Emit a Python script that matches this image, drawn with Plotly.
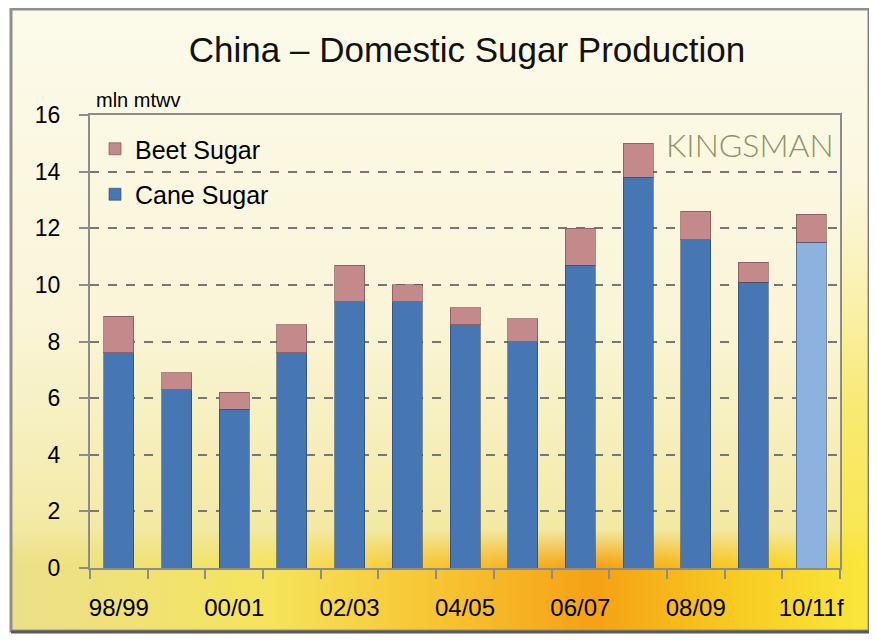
import base64
import plotly.graph_objects as go

# ---- data ----
seasons = ["98/99", "99/00", "00/01", "01/02", "02/03", "03/04", "04/05",
           "05/06", "06/07", "07/08", "08/09", "09/10", "10/11f"]
tick_labels = ["98/99", "", "00/01", "", "02/03", "", "04/05",
               "", "06/07", "", "08/09", "", "10/11f"]
cane_sugar = [7.6, 6.3, 5.6, 7.6, 9.4, 9.4, 8.6, 8.0, 10.7, 13.8, 11.6, 10.1, 11.5]
beet_sugar = [1.3, 0.6, 0.6, 1.0, 1.3, 0.6, 0.6, 0.8, 1.3, 1.2, 1.0, 0.7, 1.0]
y_ticks = [0, 2, 4, 6, 8, 10, 12, 14, 16]

# ---- styles ----
FONT = "Liberation Sans, Arial, sans-serif"
CANE = "#4677b4"
CANE_FC = "#8cb2e0"
BEET = "#c48a8b"
cane_colors = [CANE] * (len(seasons) - 1) + [CANE_FC]

W, H = 877, 640
OFF = 8  # page body margin
# plot area in screen pixels: x 90..840, y 115..568
ML, MT = 90 - OFF, 115 - OFF
MR, MB = W - (840 - OFF), H - (568 - OFF)
PW, PH = W - ML - MR, H - MT - MB

fx0, fy0, fx1, fy1 = 10 - OFF, 8 - OFF, 870 - OFF, 632 - OFF
svg = f"""<svg xmlns='http://www.w3.org/2000/svg' width='{W}' height='{H}' viewBox='0 0 {W} {H}'>
<defs>
<linearGradient id='v' x1='0' y1='0' x2='0' y2='1'>
 <stop offset='0' stop-color='#fcfaea'/>
 <stop offset='0.5' stop-color='#faf5d8'/>
 <stop offset='0.8' stop-color='#f4ebab'/>
 <stop offset='1' stop-color='#efdf7a'/>
</linearGradient>
<linearGradient id='h' x1='0' y1='0' x2='1' y2='0'>
 <stop offset='0' stop-color='#ebe08c'/>
 <stop offset='0.3' stop-color='#f5e45c'/>
 <stop offset='0.5' stop-color='#f7c432'/>
 <stop offset='0.68' stop-color='#f5a114'/>
 <stop offset='0.85' stop-color='#f8cc22'/>
 <stop offset='1' stop-color='#fae83c'/>
</linearGradient>
<linearGradient id='fv' x1='0' y1='0' x2='0' y2='1'>
 <stop offset='0' stop-color='white' stop-opacity='0'/>
 <stop offset='0.35' stop-color='white' stop-opacity='1'/>
 <stop offset='1' stop-color='white' stop-opacity='1'/>
</linearGradient>
<mask id='m'><rect x='{fx0}' y='{fy1-102}' width='{fx1-fx0}' height='102' fill='url(#fv)'/></mask>
<linearGradient id='rs' x1='0' y1='0' x2='0' y2='1'>
 <stop offset='0' stop-color='#f9ee80' stop-opacity='0'/>
 <stop offset='0.5' stop-color='#f9e860' stop-opacity='0.8'/>
 <stop offset='1' stop-color='#fae63a' stop-opacity='1'/>
</linearGradient>
</defs>
<rect x='0' y='0' width='{W}' height='{H}' fill='white'/>
<rect x='{fx0}' y='{fy0}' width='{fx1-fx0}' height='{fy1-fy0}' fill='url(#v)'/>
<rect x='{fx1-28}' y='{180-OFF}' width='28' height='{fy1-180+OFF}' fill='url(#rs)'/>
<rect x='{fx0}' y='{fy1-102}' width='{fx1-fx0}' height='102' fill='url(#h)' mask='url(#m)'/>
<rect x='{fx0+1}' y='{fy0+1}' width='{fx1-fx0-2}' height='{fy1-fy0-2}' fill='none' stroke='#8f8f8f' stroke-width='3'/>
<line x1='{fx0+1}' y1='{fy1}' x2='{fx1}' y2='{fy1}' stroke='#5a5a5a' stroke-width='3'/>
<line x1='{fx1}' y1='{fy0+1}' x2='{fx1}' y2='{fy1}' stroke='#6a6a6a' stroke-width='3'/>
</svg>"""
bg_uri = "data:image/svg+xml;base64," + base64.b64encode(svg.encode()).decode()

fig = go.Figure()
fig.add_trace(go.Bar(
    x=seasons, y=cane_sugar, name="Cane Sugar", legendgroup="cane", legendrank=2,
    marker=dict(color=cane_colors, line=dict(color="rgba(40,60,90,0.55)", width=1)),
))
fig.add_trace(go.Bar(
    x=seasons, y=beet_sugar, name="Beet Sugar", legendgroup="beet", legendrank=1,
    marker=dict(color=BEET, line=dict(color="rgba(110,70,70,0.6)", width=1)),
))

fig.update_layout(
    width=W, height=H,
    margin=dict(l=ML, r=MR, t=MT, b=MB, autoexpand=False),
    barmode="stack", bargap=0.48,
    paper_bgcolor="white", plot_bgcolor="white",
    font=dict(family=FONT, color="#000000", size=22),
    title=dict(text="China \u2013 Domestic Sugar Production", xref="container",
               x=(467 - OFF) / W, y=1 - (50 - OFF) / H, xanchor="center", yanchor="middle",
               font=dict(family=FONT, size=35, color="#111111"), automargin=False),
    showlegend=True,
    legend=dict(x=5 / PW, y=1 - 11 / PH, xanchor="left", yanchor="top",
                bgcolor="rgba(0,0,0,0)", font=dict(size=25, family=FONT),
                traceorder="grouped", tracegroupgap=10,
                itemwidth=30),
    xaxis=dict(
        type="category", tickmode="array", tickvals=seasons, ticktext=tick_labels,
        ticks="outside", tickson="boundaries", ticklen=9, tickwidth=2,
        tickcolor="#8c8c8c", showline=True, linecolor="#8c8c8c", linewidth=2,
        mirror=True, showgrid=False, tickfont=dict(size=24, family=FONT),
        tickangle=0, automargin=False,
        ticklabelstandoff=17, range=[-0.5, len(seasons) - 0.5],
    ),
    yaxis=dict(
        range=[0, 16], tickmode="array", tickvals=y_ticks,
        ticks="outside", ticklen=9, tickwidth=2, tickcolor="#8c8c8c",
        showline=True, linecolor="#8c8c8c", linewidth=2, mirror=True,
        showgrid=True, gridcolor="#767676", gridwidth=2, griddash="dash",
        zeroline=False, tickfont=dict(size=23, family=FONT), automargin=False,
        ticklabelstandoff=14,
    ),
    images=[dict(source=bg_uri, xref="paper", yref="paper",
                 x=-ML / PW, y=1 + MT / PH, sizex=W / PW, sizey=H / PH,
                 xanchor="left", yanchor="top", sizing="stretch", layer="below")],
    annotations=[
        dict(text="mln mtwv", xref="paper", yref="paper", x=4 / PW, y=1 + 15 / PH,
             xanchor="left", yanchor="middle", showarrow=False,
             font=dict(size=20, family=FONT, color="#000000")),
        dict(text="KINGSMAN", xref="paper", yref="paper", x=(836 - 90) / PW,
             y=(568 - 144) / PH, xanchor="right", yanchor="middle", showarrow=False,
             font=dict(size=32, family="Lato, Open Sans, sans-serif", color="#8a9462",
                       weight=300)),
    ],
)

fig.write_html("out.html")
